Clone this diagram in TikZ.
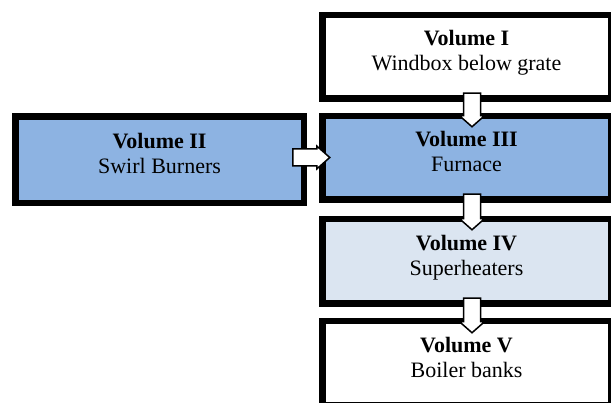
\documentclass[tikz,border=0pt]{standalone}
\usepackage{fontspec}
\setmainfont{Liberation Serif}
\usetikzlibrary{calc}
\definecolor{midblue}{HTML}{8DB3E2}
\definecolor{paleblue}{HTML}{DBE5F1}
\newcommand{\volbox}[2]{\strut\textbf{#1}\\\strut #2\rule[-14.5pt]{0pt}{14.5pt}}
\tikzset{
  volbox/.style={draw=black, line width=6.5pt, rectangle, inner sep=0pt, outer sep=0pt,
    minimum width=288.5pt, minimum height=83.5pt, align=center,
    font=\fontsize{22pt}{25pt}\selectfont},
  blockdown/.style={draw=black, fill=white, line width=1.5pt, line join=miter,
    to path={let \p1=(\tikztostart), \p2=(\tikztotarget) in
      (\x1-8.5pt,\y1) -- (\x1+8.5pt,\y1) -- (\x1+8.5pt,\y2+11pt) -- (\x1+12.5pt,\y2+11pt)
      -- (\x1,\y2) -- (\x1-12.5pt,\y2+11pt) -- (\x1-8.5pt,\y2+11pt) -- cycle}},
  blockright/.style={draw=black, fill=white, line width=1.5pt, line join=miter,
    to path={let \p1=(\tikztostart), \p2=(\tikztotarget) in
      (\x1,\y1+8.5pt) -- (\x2-13pt,\y1+8.5pt) -- (\x2-13pt,\y1+11.5pt) -- (\x2,\y1)
      -- (\x2-13pt,\y1-11.5pt) -- (\x2-13pt,\y1-8.5pt) -- (\x1,\y1-8.5pt) -- cycle}}
}
\begin{document}
\begin{tikzpicture}[x=1pt, y=-1pt]
  \path[use as bounding box] (0,0) rectangle (611,403);
  \clip (0,0) rectangle (611,403);
  \fill[white] (0,0) rectangle (611,403);
  \node[volbox, fill=white] (v1) at (466.5,57) {\volbox{Volume I}{Windbox below grate}};
  \node[volbox, fill=midblue, minimum height=86.5pt] (v2) at (159.5,160) {\volbox{Volume II}{Swirl Burners}};
  \node[volbox, fill=midblue] (v3) at (466.5,158) {\volbox{Volume III}{Furnace}};
  \node[volbox, fill=paleblue, minimum height=84.5pt] (v4) at (466.5,261.5) {\volbox{Volume IV}{Superheaters}};
  \node[volbox, fill=white, minimum height=84.5pt] (v5) at (466.5,363.5) {\volbox{Volume V}{Boiler banks}};
  \draw[blockdown] ($(v1.south)+(5.5,-5.5)$) to ($(v3.north)+(5.5,10.5)$);
  \draw[blockdown] ($(v3.south)+(5.5,-5.5)$) to ($(v4.north)+(5.5,10.5)$);
  \draw[blockdown] ($(v4.south)+(5.5,-5.5)$) to ($(v5.north)+(5.5,11.5)$);
  \draw[blockright] ($(v2.east)+(-11,-2.5)$) to ($(v3.west)+(7.5,-2.5)$);
\end{tikzpicture}
\end{document}
